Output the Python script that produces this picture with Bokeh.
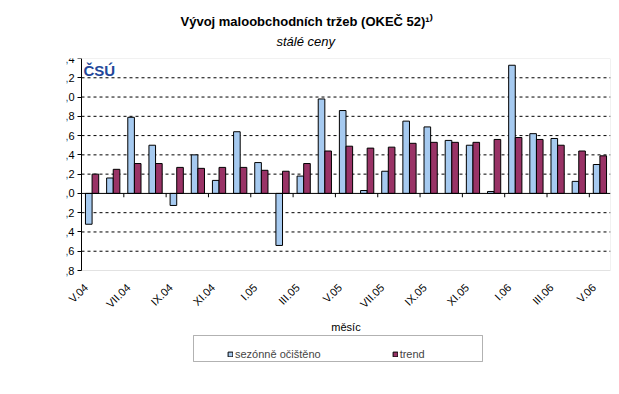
import numpy as np
from bokeh.plotting import figure
from bokeh.models import (FixedTicker, Label, Legend, LegendItem, Title, BoxAnnotation, Range1d)
from bokeh.core.properties import value
from bokeh.embed import file_html
from bokeh.resources import INLINE

months = ["V.04", "VI.04", "VII.04", "VIII.04", "IX.04", "X.04", "XI.04", "XII.04",
          "I.05", "II.05", "III.05", "IV.05", "V.05", "VI.05", "VII.05", "VIII.05",
          "IX.05", "X.05", "XI.05", "XII.05", "I.06", "II.06", "III.06", "IV.06", "V.06"]
seasonal = [-0.32, 0.16, 0.79, 0.50, -0.125, 0.40, 0.135, 0.64, 0.32, -0.54, 0.18, 0.98, 0.86,
            0.03, 0.23, 0.75, 0.69, 0.55, 0.50, 0.02, 1.33, 0.62, 0.57, 0.125, 0.30]
trend = [0.20, 0.25, 0.31, 0.31, 0.27, 0.26, 0.27, 0.27, 0.24, 0.23, 0.31, 0.44, 0.49,
         0.47, 0.48, 0.52, 0.53, 0.53, 0.53, 0.56, 0.58, 0.56, 0.50, 0.44, 0.39]
y_ticks = [-0.8, -0.6, -0.4, -0.2, 0.0, 0.2, 0.4, 0.6, 0.8, 1.0, 1.2, 1.4]
y_tick_labels = ["-0,8", "-0,6", "-0,4", "-0,2", "0,0", "0,2", "0,4", "0,6", "0,8", "1,0", "1,2", "1,4"]

FONT = "Liberation Sans"
n = len(months)
idx = np.arange(n)
bw = 0.3125

# layout geometry (pixels)
W, H = 619, 394
TOP, RIGHT = 58, 9
AREA_LEFT = 81             # pixel where the value area starts
FRAME_LEFT = 66            # frame starts a bit further left so the first label fits
AREA_H = 212               # height of the value area (1,4 .. -0,8)
BELOW = H - TOP - AREA_H
unit_px_y = AREA_H / (y_ticks[-1] - y_ticks[0])
y_start = y_ticks[0] - BELOW / unit_px_y
unit_px_x = (W - RIGHT - AREA_LEFT) / n
x_start = -0.5 - (AREA_LEFT - FRAME_LEFT) / unit_px_x

p = figure(width=W, height=H, output_backend="svg", toolbar_location=None,
           x_axis_location=None,
           x_range=Range1d(x_start, n - 0.5), y_range=Range1d(y_start, y_ticks[-1]),
           min_border_left=FRAME_LEFT, min_border_right=RIGHT, min_border_top=TOP,
           min_border_bottom=0)
p.outline_line_color = None
p.background_fill_color = "white"
p.xgrid.visible = False
p.ygrid.visible = False

# plot-area border
p.add_layout(BoxAnnotation(left=-0.5, right=n - 0.5, bottom=y_ticks[0], top=y_ticks[-1],
                           fill_color=None, fill_alpha=0, line_color="#a0a0a0", line_width=1,
                           level="underlay"))

# dashed gridlines inside the value area
grid_y = [t for t in y_ticks if t not in (y_ticks[0], 0.0, y_ticks[-1])]
p.segment(x0=[-0.5] * len(grid_y), y0=grid_y, x1=[n - 0.5] * len(grid_y), y1=grid_y,
          line_color="black", line_width=1, line_dash="3 3")

r1 = p.vbar(x=idx - bw / 2, top=seasonal, bottom=0, width=bw,
            fill_color="#A6CAF0", line_color="black", line_width=1)
r2 = p.vbar(x=idx + bw / 2, top=trend, bottom=0, width=bw,
            fill_color="#993366", line_color="black", line_width=1)

# zero line and category tick marks
p.segment(x0=[-0.5], y0=[0], x1=[n - 0.5], y1=[0], line_color="black", line_width=1)
tick_x = idx[1:-1:2] + 0.5
p.segment(x0=tick_x, y0=0, x1=tick_x, y1=-0.04, line_color="black", line_width=1)

# y axis, fixed at the left edge of the value area
p.yaxis.fixed_location = -0.5
p.yaxis.ticker = FixedTicker(ticks=y_ticks)
p.yaxis.bounds = (y_ticks[0], y_ticks[-1])
p.yaxis.major_label_overrides = {t: l for t, l in zip(y_ticks, y_tick_labels)}
p.yaxis.axis_line_color = "black"
p.yaxis.major_tick_line_color = "black"
p.yaxis.major_tick_out = 4
p.yaxis.major_tick_in = 0
p.yaxis.minor_tick_line_color = None
p.yaxis.major_label_text_font = FONT
p.yaxis.major_label_text_font_size = "11px"
p.yaxis.major_label_text_color = "black"
p.yaxis.major_label_standoff = 3
p.yaxis.axis_label = "% meziměsíční změny"
p.yaxis.axis_label_text_font = FONT
p.yaxis.axis_label_text_font_size = "11px"
p.yaxis.axis_label_text_font_style = "normal"
p.yaxis.axis_label_text_color = "black"
p.yaxis.axis_label_standoff = 24

# category labels (every second month), rotated, under the value area
lab_idx = idx[::2]
p.text(x=lab_idx, y=[y_ticks[0]] * len(lab_idx), text=[months[i] for i in lab_idx],
       angle=np.pi / 4, text_align="right", text_baseline="middle",
       x_offset=-6, y_offset=15, text_font=value(FONT), text_font_size=value("11px"),
       text_color="black")
p.text(x=[(n - 1) / 2], y=[y_ticks[0]], text=["měsíc"], text_align="center",
       text_baseline="middle", y_offset=56, text_font=value(FONT),
       text_font_size=value("11px"), text_color="black")

# titles (first added sits closest to the frame)
p.add_layout(Title(text="stálé ceny", align="left", offset=276 - FRAME_LEFT, text_font=FONT,
                   text_font_size="13px", text_font_style="italic", text_color="black",
                   standoff=20), "above")
p.add_layout(Title(text="Vývoj maloobchodních tržeb (OKEČ 52)¹⁾", align="left",
                   offset=180 - FRAME_LEFT,
                   text_font=FONT, text_font_size="13px", text_font_style="bold",
                   text_color="black", standoff=-14), "above")

# logo
p.add_layout(Label(x=83, y=61, x_units="canvas", y_units="canvas",
                   text="ČSÚ", text_font=FONT, text_font_size="15px",
                   text_font_style="bold", text_align="left", text_baseline="top",
                   text_color="#23479A"))

# legend box and legend
p.add_layout(BoxAnnotation(left=193, right=482, top=335, bottom=361,
                           left_units="canvas", right_units="canvas",
                           top_units="canvas", bottom_units="canvas",
                           fill_color="white", fill_alpha=1, line_color="black",
                           line_width=1))
legend = Legend(items=[LegendItem(label="sezónně očištěno", renderers=[r1]),
                       LegendItem(label="trend", renderers=[r2])],
                orientation="horizontal", location=(227 - FRAME_LEFT, 33),
                padding=6, spacing=71, margin=0,
                glyph_width=6, glyph_height=6, label_standoff=2, label_height=14,
                label_text_font=FONT, label_text_font_size="11px",
                border_line_color=None, background_fill_alpha=0)
p.add_layout(legend)

open("out.html", "w").write(file_html(p, INLINE))
